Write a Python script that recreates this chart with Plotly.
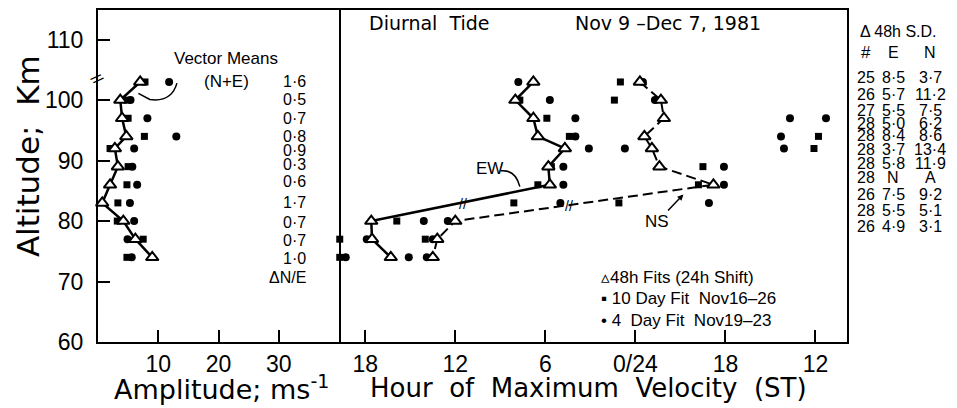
import plotly.graph_objects as go

# ---------------------------------------------------------------- data
altitude = [103, 100, 97, 94, 92, 89, 86, 83, 80, 77, 74]  # km

# Amplitude of the diurnal tide (m/s)
amp_48h = [7.0, 3.7, 4.0, 4.7, 2.8, 3.3, 2.0, 0.7, 4.2, 6.2, 9.0]
amp_10day = [7.8, 4.8, 5.0, 7.7, 2.0, 5.0, 4.8, 3.3, 3.2, 7.5, 4.8]
amp_4day = [11.8, 5.4, 8.2, 13.0, 6.0, 5.7, 6.5, 5.3, 6.0, 4.9, 5.6]

# Hour of maximum velocity (ST), unwrapped: negative values are hours of the
# following cycle (e.g. -6 is 18 h), so the axis runs 18..0/24..18..12
phase_ew_48h = [6.8, 8.0, 6.8, 6.5, 4.7, 5.8, 5.7, None, 17.6, 17.55, 16.3]
phase_ns_48h = [-0.3, -1.7, -1.9, -0.6, -1.1, -1.6, -5.2, None, 12.0, 13.2, 13.5]

# 10 day fit (Nov 16-26) phases, EW and NS together
sq_alt = [103, 100, 100, 97, 94, 94, 92, 89, 89, 86, 86, 83, 83, 80, 77, 77, 74]
sq_hour = [1.0, 7.7, 1.4, 5.9, 4.4, -12.2, -11.9, 5.6, -4.5, 6.5, -4.2,
           8.1, 1.1, 15.9, 19.7, 14.0, 19.7]

# 4 day fit (Nov 19-23) phases, EW and NS together
dot_alt = [103, 103, 100, 100, 97, 97, 97, 94, 94, 92, 92, 92, 89, 89,
           86, 86, 83, 83, 80, 80, 77, 77, 74, 74, 74]
dot_hour = [7.8, -0.5, 5.7, -1.3, 4.0, -10.3, -12.7, 4.0, -9.7, 3.1, 0.7,
            -9.9, 4.8, -5.9, 4.8, -5.9, 5.0, -4.9, 14.1, 12.5, 17.9, 13.5,
            19.3, 15.1, 13.9]

# Vector difference N/E and 48 h standard deviations per height
delta_ne = ["1·6", "0·5", "0·7", "0·8", "0·9", "0·3", "0·6", "1·7", "0·7", "0·7", "1·0"]
sd_count = ["25", "26", "27", "28", "28", "28", "28", "28", "26", "28", "26"]
sd_e = ["8·5", "5·7", "5·5", "5·0", "8·4", "3·7", "5·8", "N", "7·5", "5·5", "4·9"]
sd_n = ["3·7", "11·2", "7·5", "6·2", "8·6", "13·4", "11·9", "A", "9·2", "5·1", "3·1"]

amp_ticks = [10, 20, 30]
hour_ticks = [18, 12, 6, 0, -6, -12]
hour_labels = ["18", "12", "6", "0/24", "18", "12"]
alt_ticks = [60, 70, 80, 90, 100, 110]

# ---------------------------------------------------------------- layout helpers
W, H = 957, 408
L, R, T, B = 98, 110, 8, 66
PW, PH = W - L - R, H - T - B
SPLIT = 339  # divider between the amplitude and phase panels (px)


def px(x):
    return (x - L) / PW


def py(y):
    return (H - B - y) / PH


TXT = "Liberation Sans"
BIG = "DejaVu Sans"
INK = "black"

tri = dict(symbol="triangle-up", size=11, color="white", line=dict(color=INK, width=2))
sq = dict(symbol="square", size=7, color=INK, line=dict(width=0))
dot = dict(symbol="circle", size=8, color=INK, line=dict(width=0))

fig = go.Figure()

# amplitude panel
fig.add_trace(go.Scatter(x=amp_10day, y=altitude, mode="markers", marker=sq,
                         xaxis="x", yaxis="y", cliponaxis=False))
fig.add_trace(go.Scatter(x=amp_4day, y=altitude, mode="markers", marker=dot,
                         xaxis="x", yaxis="y", cliponaxis=False))
fig.add_trace(go.Scatter(x=amp_48h, y=altitude, mode="lines+markers",
                         line=dict(color=INK, width=2.5), marker=tri,
                         xaxis="x", yaxis="y", cliponaxis=False))

# phase panel
fig.add_trace(go.Scatter(x=sq_hour, y=sq_alt, mode="markers", marker=sq,
                         xaxis="x2", yaxis="y2", cliponaxis=False))
fig.add_trace(go.Scatter(x=dot_hour, y=dot_alt, mode="markers", marker=dot,
                         xaxis="x2", yaxis="y2", cliponaxis=False))
fig.add_trace(go.Scatter(x=phase_ew_48h, y=altitude, mode="lines+markers",
                         connectgaps=True, line=dict(color=INK, width=2.5),
                         marker=tri, xaxis="x2", yaxis="y2", cliponaxis=False))
fig.add_trace(go.Scatter(x=phase_ns_48h, y=altitude, mode="lines+markers",
                         connectgaps=True,
                         line=dict(color=INK, width=2, dash="10px,5px"),
                         marker=tri, xaxis="x2", yaxis="y2", cliponaxis=False))

axis_common = dict(showline=True, linewidth=2, linecolor=INK, mirror=True,
                   showgrid=False, zeroline=False, ticks="inside", ticklen=12,
                   tickwidth=2, tickcolor=INK,
                   tickfont=dict(family=TXT, size=23, color=INK))

ann = []


def text(x, y, s, size=17, family=TXT, xanchor="center", xref="paper",
         yref="paper", **kw):
    ann.append(dict(x=x, y=y, xref=xref, yref=yref, text=s, showarrow=False,
                    xanchor=xanchor, yanchor="middle",
                    font=dict(family=family, size=size, color=INK), **kw))


# titles
text(px(367), py(21), "Diurnal  Tide", size=19, family=BIG, xanchor="left")
text(px(573), py(21), "Nov 9 –Dec 7, 1981", size=19, family=BIG, xanchor="left")

# axis titles
text(px(221), py(388), "Amplitude;\u00a0ms<sup>-1</sup>", size=27, family=BIG)
text(px(588), py(388),
     "Hour\u00a0\u00a0of\u00a0\u00a0Maximum\u00a0\u00a0Velocity\u00a0\u00a0(ST)",
     size=26, family=BIG)
text(px(28), py(155), "Altitude;\u00a0 Km", size=31, family=BIG, textangle=-90)

# vector means callout
text(px(226), py(57), "Vector Means", size=17)
text(px(226), py(80), "(N+E)", size=17)

# vector N/E difference column, one row per height
delta_y = [80, 98, 117, 135, 149, 163, 181, 202, 222, 240, 258]
for yy, d in zip(delta_y, delta_ne):
    text(px(308), py(yy), d, size=16, xanchor="right")
text(px(308), py(277), "ΔN/E", size=16, xanchor="right")

# component labels
text(px(490), py(167), "EW", size=17)
ann.append(dict(x=-3.2, y=84.4, xref="x2", yref="y", text="NS", showarrow=True,
                ax=-26, ay=27, arrowhead=2, arrowsize=0.8, arrowwidth=1.5,
                arrowcolor=INK, font=dict(family=TXT, size=17, color=INK)))

# legend
text(px(599), py(277), "▵48h Fits (24h Shift)", size=17, xanchor="left")
text(px(599), py(298), "▪ 10 Day Fit\u00a0 Nov16–26", size=17, xanchor="left")
text(px(599), py(320), "• 4\u00a0 Day Fit\u00a0 Nov19–23", size=17, xanchor="left")

# 48 h standard deviation table
rows_y = [76, 93, 109, 122, 134, 148, 162, 177, 194, 210, 226]
text(px(858), py(30), "Δ 48h S.D.", size=16, xanchor="left")
text(px(866), py(51), "#", size=17)
text(px(893), py(51), "E", size=16)
text(px(930), py(51), "N", size=16)
for yy, c, e, n in zip(rows_y, sd_count, sd_e, sd_n):
    text(px(866), py(yy), c, size=16)
    text(px(893), py(yy), e, size=16)
    text(px(930), py(yy), n, size=16)

# break marks
text(px(97), py(77), "//", size=15, textangle=50)
text(11.5, 82.9, "//", size=14, xref="x2", yref="y")
text(4.4, 82.5, "//", size=14, xref="x2", yref="y")

shapes = [
    # pointer from the vector-means label to the 48h amplitude profile
    dict(type="path", xref="x", yref="y",
         path="M 13.1,102.8 Q 12.2,99.6 8.6,100.1 L 6.7,101.1",
         line=dict(color=INK, width=1.5)),
    # pointer from the EW label to its phase profile
    dict(type="path", xref="x2", yref="y",
         path="M 9.0,88.3 Q 8.0,88.6 7.7,85.7",
         line=dict(color=INK, width=1.5)),
]

fig.update_layout(
    width=W, height=H, margin=dict(l=L, r=R, t=T, b=B),
    paper_bgcolor="white", plot_bgcolor="white", showlegend=False,
    xaxis=dict(domain=[0, px(SPLIT)], range=[0, 40], tickvals=amp_ticks,
               anchor="y", **axis_common),
    xaxis2=dict(domain=[px(SPLIT), 1], range=[19.75, -14.1],
                tickvals=hour_ticks, ticktext=hour_labels, anchor="y2",
                **axis_common),
    yaxis=dict(domain=[0, 1], range=[60, 114.9], tickvals=alt_ticks,
               anchor="x", ticklabelstandoff=8, **axis_common),
    # the left axis mirror already draws the panel divider, so only the
    # outer right edge is drawn here
    yaxis2=dict(domain=[0, 1], matches="y", anchor="x2", side="right",
                showticklabels=False, showline=True, linewidth=2,
                linecolor=INK, mirror=False, showgrid=False, zeroline=False,
                ticks=""),
    annotations=ann, shapes=shapes,
)

fig.write_html("out.html")
